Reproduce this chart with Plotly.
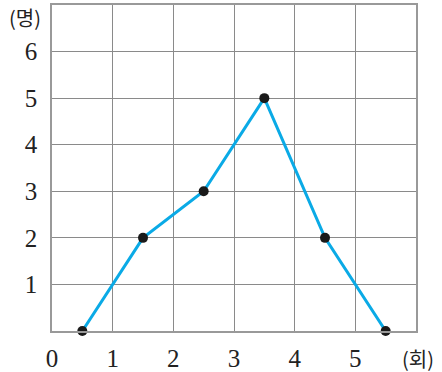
import plotly.graph_objects as go

x_vals = [0.5, 1.5, 2.5, 3.5, 4.5, 5.5]
y_vals = [0, 2, 3, 5, 2, 0]
x_ticks = [0, 1, 2, 3, 4, 5]
y_ticks = [1, 2, 3, 4, 5, 6]
x_unit = "(회)"
y_unit = "(명)"

fig = go.Figure()
fig.add_trace(go.Scatter(
    x=x_vals, y=y_vals, mode="lines+markers",
    line=dict(color="#0aaae6", width=3),
    marker=dict(color="#1a1a1a", size=10),
    cliponaxis=False, showlegend=False,
))

serif = "'Liberation Serif', 'DejaVu Serif', 'Times New Roman', serif"
fig.update_layout(
    width=442, height=372,
    margin=dict(l=52, r=26, t=5, b=41, autoexpand=False),
    paper_bgcolor="white", plot_bgcolor="white",
    font=dict(family=serif, size=25, color="#222"),
)
fig.update_xaxes(
    range=[0, 6], tickvals=x_ticks, ticktext=[str(v) for v in x_ticks],
    showgrid=True, gridcolor="#8a8a8a", gridwidth=1,
    showline=True, linecolor="#999", linewidth=1.5, mirror=True,
    zeroline=False, ticks="outside", ticklen=4, tickcolor="rgba(0,0,0,0)",
    tickfont=dict(family=serif, size=25, color="#222"),
    automargin=False, fixedrange=True,
)
fig.update_yaxes(
    range=[0, 7], tickvals=y_ticks, ticktext=[str(v) for v in y_ticks],
    showgrid=True, gridcolor="#8a8a8a", gridwidth=1,
    showline=True, linecolor="#999", linewidth=1.5, mirror=True,
    zeroline=False, ticks="outside", ticklen=8, tickcolor="rgba(0,0,0,0)",
    tickfont=dict(family=serif, size=25, color="#222"),
    automargin=False, fixedrange=True,
)
fig.add_annotation(x=1, y=0, xref="paper", yref="y", text=x_unit, showarrow=False,
                   xanchor="center", xshift=2, yshift=-27,
                   font=dict(family="Noto Sans CJK KR", size=20, color="#222"))
fig.add_annotation(x=0, y=7, xref="paper", yref="y", text=y_unit, showarrow=False,
                   xanchor="right", xshift=-9, yshift=-12,
                   font=dict(family="Noto Sans CJK KR", size=20, color="#222"))

fig.write_html("out.html", config={"displayModeBar": False},
               post_script="document.body.style.margin='0';document.body.style.padding='0';document.documentElement.style.overflow='hidden';")
